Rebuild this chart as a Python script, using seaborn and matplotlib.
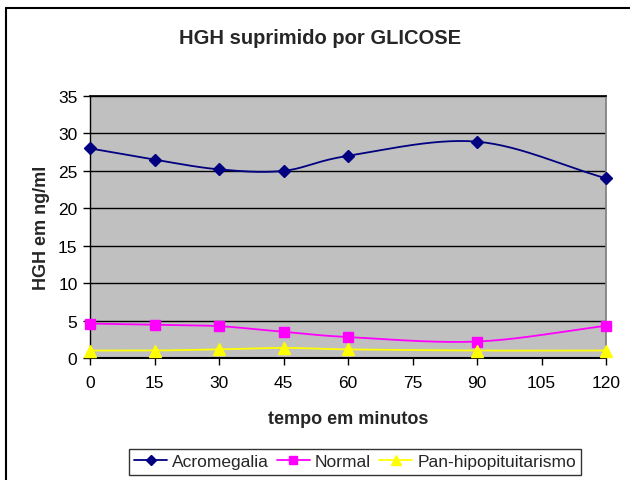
import numpy as np
import pandas as pd
import matplotlib
matplotlib.use("Agg")
import matplotlib.pyplot as plt
import seaborn as sns
from matplotlib.lines import Line2D

minutes = [0, 15, 30, 45, 60, 90, 120]
acromegalia = [28.0, 26.5, 25.2, 25.0, 27.0, 28.9, 24.0]
normal = [4.6, 4.45, 4.25, 3.5, 2.8, 2.2, 4.3]
pan_hipo = [1.0, 1.0, 1.15, 1.35, 1.15, 1.0, 1.0]
series_names = ["Acromegalia", "Normal", "Pan-hipopituitarismo"]
colors = ["#000080", "#FF00FF", "#FFFF00"]
markers = ["D", "s", "^"]
msizes = [6, 7, 8]

sns.set_theme(style="white")
plt.rcParams["font.family"] = ["Liberation Sans", "DejaVu Sans"]

fig = plt.figure(figsize=(6.3, 4.81), dpi=100)
ax = fig.add_axes([90/630, 1-359/481, 516/630, 262/481])
ax.set_facecolor("#C0C0C0")


def smooth(xs, ys, n=30):
    # Catmull-Rom style curve through the points (display-like scaling)
    sx, sy = 516/120, 262/35
    P = np.column_stack([np.array(xs)*sx, np.array(ys)*sy])
    P = np.vstack([P[0]*2-P[1], P, P[-1]*2-P[-2]])
    out = []
    for i in range(1, len(P)-2):
        p0, p1, p2, p3 = P[i-1], P[i], P[i+1], P[i+2]
        t = np.linspace(0, 1, n, endpoint=False)[:, None]
        tension = 0.5
        m1 = (p2 - p0) * tension
        m2 = (p3 - p1) * tension
        h00 = 2*t**3 - 3*t**2 + 1
        h10 = t**3 - 2*t**2 + t
        h01 = -2*t**3 + 3*t**2
        h11 = t**3 - t**2
        out.append(h00*p1 + h10*m1 + h01*p2 + h11*m2)
    out.append(P[-2][None, :])
    C = np.vstack(out)
    return C[:, 0]/sx, C[:, 1]/sy


rows = []
pts = []
for name, vals in zip(series_names, [acromegalia, normal, pan_hipo]):
    cx, cy = smooth(minutes, vals)
    for i, (a, b) in enumerate(zip(cx, cy)):
        rows.append({"x": a, "y": b, "serie": name, "order": i})
    for a, b in zip(minutes, vals):
        pts.append({"x": a, "y": b, "serie": name})
curves = pd.DataFrame(rows)
points = pd.DataFrame(pts)

pal = dict(zip(series_names, colors))
sns.lineplot(data=curves, x="x", y="y", hue="serie", palette=pal, sort=False,
             estimator=None, units="serie", linewidth=1.3, legend=False, ax=ax, zorder=3)
for name, c, m, s in zip(series_names, colors, markers, msizes):
    sub = points[points["serie"] == name]
    ax.plot(sub["x"], sub["y"], linestyle="none", marker=m, color=c,
            markersize=s, markeredgecolor=c, zorder=4, clip_on=False)

ax.set_xlim(0, 120)
ax.set_ylim(0, 35)
ax.set_xticks(range(0, 121, 15))
ax.set_yticks(range(0, 36, 5))
ax.grid(axis="y", color="black", linewidth=1.0)
ax.grid(axis="x", visible=False)
ax.set_axisbelow(True)
for sp in ["top", "right"]:
    ax.spines[sp].set_visible(True)
ax.spines["top"].set_color("black")
ax.spines["right"].set_color("#808080")
ax.spines["left"].set_color("black")
ax.spines["bottom"].set_color("black")
ax.spines["bottom"].set_linewidth(1.5)
ax.spines["left"].set_linewidth(1.0)
ax.tick_params(axis="both", direction="out", length=5, width=1, color="black",
               labelsize=12.5, labelcolor="black", bottom=True, left=True, pad=4)
ax.tick_params(axis="x", pad=7)

ax.set_xlabel("tempo em minutos", fontsize=13, fontweight="bold", labelpad=15)
ax.set_ylabel("HGH em ng/ml", fontsize=13, fontweight="bold", labelpad=6)
fig.text(0.508, 1-38/481, "HGH suprimido por GLICOSE", ha="center", va="center",
         fontsize=14.5, fontweight="bold")

handles = [Line2D([0], [0], color=c, marker=m, markersize=s-1, markeredgecolor=c, linewidth=1.3)
           for c, m, s in zip(colors, markers, msizes)]
leg = fig.legend(handles, series_names, loc="upper center", bbox_to_anchor=(355/630, 1-450/481),
                 ncol=3, frameon=True, fontsize=12.5, handlelength=1.9, columnspacing=0.45,
                 handletextpad=0.3, borderpad=0.3, borderaxespad=0, fancybox=False)
leg.get_frame().set_edgecolor("black")
leg.get_frame().set_linewidth(1.0)

fig.add_artist(Line2D([6/630, 6/630], [0, 1-9/481], color="black", linewidth=1.5,
                      transform=fig.transFigure))
fig.add_artist(Line2D([6/630, 1], [1-9/481, 1-9/481], color="black", linewidth=1.5,
                      transform=fig.transFigure))

fig.savefig("out.png", dpi=100, facecolor="white")
